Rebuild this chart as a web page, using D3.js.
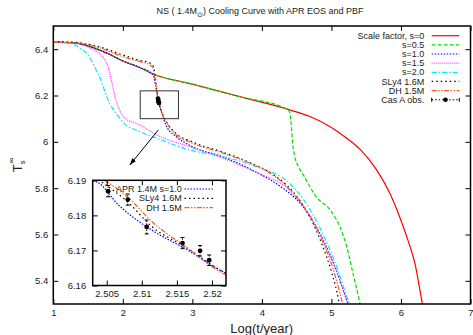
<!DOCTYPE html>
<html>
<head>
<meta charset="utf-8">
<script src="https://cdn.jsdelivr.net/npm/d3@7"></script>
<style>
body { margin: 0; background: #fff; }
svg { font-family: "Liberation Sans", Arial, sans-serif; }
</style>
</head>
<body>
<div id="container"></div>
<script>
// cooling curves, [log t, log Ts]
let s0 = [[1.0,6.43],[1.3,6.427],[1.53,6.411],[1.77,6.383],[2.0,6.349],[2.25,6.32],[2.41,6.296],[3.0,6.249],[3.68,6.195],[4.4,6.138],[4.7,6.108],[5.0,6.062],[5.2,6.02],[5.43,5.962],[5.65,5.879],[5.84,5.778],[5.98,5.677],[6.1,5.576],[6.2,5.476],[6.29,5.331],[6.315,5.29]];
let s05 = [[1.0,6.43],[1.3,6.427],[1.53,6.411],[1.77,6.383],[2.0,6.349],[2.25,6.32],[2.41,6.296],[3.0,6.249],[3.68,6.195],[4.36,6.141],[4.40,6.128],[4.42,6.08],[4.44,6.0],[4.47,5.94],[4.53,5.89],[4.6,5.855],[4.78,5.763],[4.98,5.707],[5.12,5.634],[5.22,5.547],[5.31,5.432],[5.4,5.317],[5.42,5.29]];
let s10 = [[1.0,6.43],[1.3,6.427],[1.53,6.411],[1.77,6.383],[2.0,6.349],[2.25,6.32],[2.41,6.296],[2.44,6.285],[2.47,6.245],[2.51,6.18],[2.56,6.124],[2.63,6.066],[2.77,6.022],[3.0,5.979],[3.44,5.935],[3.9,5.872],[4.3,5.8],[4.55,5.735],[4.74,5.655],[4.9,5.565],[5.05,5.46],[5.17,5.36],[5.25,5.29]];
let s15 = [[1.0,6.43],[1.3,6.425],[1.53,6.404],[1.7,6.37],[1.78,6.33],[1.84,6.26],[1.89,6.19],[1.95,6.14],[2.02,6.105],[2.246,6.073],[2.486,6.03],[2.96,5.979],[3.44,5.929],[3.9,5.87],[4.4,5.79],[4.6,5.72],[4.76,5.64],[4.92,5.55],[5.07,5.445],[5.18,5.35],[5.25,5.29]];
let s20 = [[1.0,6.43],[1.25,6.425],[1.4,6.40],[1.5,6.375],[1.6,6.32],[1.68,6.27],[1.75,6.21],[1.82,6.16],[1.9,6.125],[2.0,6.085],[2.246,6.044],[2.486,6.016],[2.96,5.965],[3.443,5.936],[3.92,5.893],[4.4,5.82],[4.6,5.75],[4.78,5.66],[4.95,5.555],[5.1,5.44],[5.2,5.35],[5.27,5.29]];
let sly4 = [[1.0,6.432],[1.3,6.43],[1.6,6.415],[2.0,6.375],[2.2,6.355],[2.4,6.338],[2.44,6.325],[2.47,6.27],[2.5,6.2],[2.51,6.182],[2.56,6.13],[2.64,6.08],[2.75,6.04],[3.0,6.0],[3.44,5.955],[3.83,5.91],[4.1,5.87],[4.35,5.815],[4.55,5.745],[4.74,5.645],[4.88,5.545],[5.0,5.44],[5.08,5.35],[5.12,5.29]];
let dh = [[1.0,6.43],[1.3,6.428],[1.6,6.412],[2.0,6.368],[2.2,6.35],[2.39,6.332],[2.43,6.32],[2.46,6.275],[2.49,6.215],[2.51,6.18],[2.56,6.128],[2.64,6.078],[2.75,6.035],[3.0,5.995],[3.44,5.951],[3.83,5.908],[4.1,5.868],[4.35,5.81],[4.55,5.742],[4.74,5.655],[4.88,5.565],[5.02,5.455],[5.12,5.35],[5.17,5.29]];

// zoomed-in part (inset)
let aprIn = [[2.503,6.1898],[2.5036,6.1895],[2.5067,6.1829],[2.5115,6.1757],[2.5162,6.1705],[2.5217,6.1638],[2.522,6.1635]];
let sly4In = [[2.5043,6.1895],[2.508,6.1838],[2.5115,6.1767],[2.5162,6.171],[2.5217,6.1638],[2.522,6.1635]];
let dhIn = [[2.5047,6.19],[2.508,6.1852],[2.5115,6.1781],[2.5162,6.1711],[2.5217,6.1633],[2.522,6.163]];

// Cas A observations
let casX = [2.5052,2.5080,2.5107,2.5158,2.5183,2.5196];
let casY = [6.1869,6.1845,6.1767,6.1721,6.1699,6.1672];
let casErr = [0.0016,0.0016,0.002,0.0016,0.0015,0.0015];

let xTicks = [1,2,3,4,5,6,7];
let yTicks = [5.4,5.6,5.8,6,6.2,6.4];
let inXTicks = [2.505,2.51,2.515,2.52];
let inYTicks = [6.16,6.17,6.18,6.19];

let w = 473, h = 335;
let viz = d3.select("#container").append("svg").attr("width", w).attr("height", h);

let xScale = d3.scaleLinear().domain([1,7]).range([53.3,470.5]);
let yScale = d3.scaleLinear().domain([5.3,6.5]).range([304,26]);

// series styles
let series = [
  {name:"Scale factor, s=0", d:s0, color:"#ff0000", dash:null, wdt:1.2},
  {name:"s=0.5", d:s05, color:"#00e000", dash:"4,2", wdt:1.2},
  {name:"s=1.0", d:s10, color:"#0000ff", dash:"1.5,1.5", wdt:1.2},
  {name:"s=1.5", d:s15, color:"#ff40ff", dash:"1,1", wdt:1.2},
  {name:"s=2.0", d:s20, color:"#00e8ff", dash:"5,2,1.5,2", wdt:1.2},
  {name:"SLy4 1.6M", d:sly4, color:"#000000", dash:"1.5,3", wdt:1.2},
  {name:"DH 1.5M", d:dh, color:"#ff5a1a", dash:"5,1.5,1.5,1.5,1.5,1.5", wdt:1.2}
];

viz.append("defs").append("clipPath").attr("id","plotclip")
  .append("rect").attr("x",53.3).attr("y",26).attr("width",470.5-53.3).attr("height",304-26);

let mainLine = d3.line().x(d=>xScale(d[0])).y(d=>yScale(d[1])).curve(d3.curveMonotoneX);

let curves = viz.append("g").attr("clip-path","url(#plotclip)");
series.forEach(s=>{
  curves.append("path").attr("d", mainLine(s.d))
    .attr("fill","none").attr("stroke",s.color).attr("stroke-width",s.wdt)
    .attr("stroke-dasharray", s.dash);
});

// Cas A points in the main plot
casX.forEach((x,i)=>{
  curves.append("circle").attr("cx",xScale(x)).attr("cy",yScale(casY[i])).attr("r",2.3).attr("fill","#000");
});

// zoom box and arrow
let boxX = [2.25,2.80], boxY = [6.10,6.22];
viz.append("rect").attr("x",xScale(boxX[0])).attr("y",yScale(boxY[1]))
  .attr("width",xScale(boxX[1])-xScale(boxX[0])).attr("height",yScale(boxY[0])-yScale(boxY[1]))
  .attr("fill","none").attr("stroke","#333").attr("stroke-width",1);

let arrowFrom = [2.51,6.051], arrowTo = [2.10,5.90];
viz.select("defs").append("marker").attr("id","head").attr("viewBox","0 0 10 10")
  .attr("refX",10).attr("refY",5).attr("markerWidth",7).attr("markerHeight",7)
  .attr("markerUnits","userSpaceOnUse").attr("orient","auto")
  .append("path").attr("d","M0,1.5 L10,5 L0,8.5 z").attr("fill","#000");
viz.append("line").attr("x1",xScale(arrowFrom[0])).attr("y1",yScale(arrowFrom[1]))
  .attr("x2",xScale(arrowTo[0])).attr("y2",yScale(arrowTo[1]))
  .attr("stroke","#000").attr("stroke-width",1).attr("marker-end","url(#head)");

// axes, gnuplot style: ticks inside on every side
let xAxis = d3.axisBottom(xScale).tickValues(xTicks).tickSize(-5).tickPadding(5).tickFormat(d3.format("d"));
let xAxisGroup = viz.append("g").attr("transform","translate(0,304)").call(xAxis);
let topAxis = viz.append("g").attr("transform","translate(0,26)")
  .call(d3.axisTop(xScale).tickValues(xTicks).tickSize(-5).tickFormat(""));
let yAxis = d3.axisLeft(yScale).tickValues(yTicks).tickSize(-5).tickPadding(5).tickFormat(d=>d3.format("")(d));
let yAxisGroup = viz.append("g").attr("transform","translate(53.3,0)").call(yAxis);
let rightAxis = viz.append("g").attr("transform","translate(470.5,0)")
  .call(d3.axisRight(yScale).tickValues(yTicks).tickSize(-5).tickFormat(""));
[xAxisGroup, topAxis, yAxisGroup, rightAxis].forEach(g=>{
  g.select(".domain").remove();
  g.selectAll("line").attr("stroke","#000").attr("stroke-width",1);
  g.selectAll("text").attr("font-size",9.5).attr("fill","#222").attr("font-family","Liberation Sans, Arial, sans-serif");
});

viz.append("rect").attr("x",53.3).attr("y",26).attr("width",470.5-53.3).attr("height",304-26)
  .attr("fill","none").attr("stroke","#000").attr("stroke-width",1.5);

// ---- inset ----
let inX = d3.scaleLinear().domain([2.503,2.522]).range([92.7,226]);
let inY = d3.scaleLinear().domain([6.16,6.19]).range([285.5,180.3]);

viz.append("rect").attr("x",92.7).attr("y",180.3).attr("width",226-92.7).attr("height",285.5-180.3)
  .attr("fill","#fff");
viz.select("defs").append("clipPath").attr("id","inclip")
  .append("rect").attr("x",92.7).attr("y",180.3).attr("width",226-92.7).attr("height",285.5-180.3);

let inLine = d3.line().x(d=>inX(d[0])).y(d=>inY(d[1])).curve(d3.curveMonotoneX);
let inSeries = [
  {name:"APR 1.4M s=1.0", d:aprIn, color:"#0000ff", dash:"1.5,1.5"},
  {name:"SLy4 1.6M", d:sly4In, color:"#000000", dash:"1.5,3"},
  {name:"DH 1.5M", d:dhIn, color:"#ff5a1a", dash:"5,1.5,1.5,1.5,1.5,1.5"}
];
let inCurves = viz.append("g").attr("clip-path","url(#inclip)");
inSeries.forEach(s=>{
  inCurves.append("path").attr("d",inLine(s.d)).attr("fill","none")
    .attr("stroke",s.color).attr("stroke-width",1.2).attr("stroke-dasharray",s.dash);
});

// error bars + points
casX.forEach((x,i)=>{
  let px = inX(x), y1 = inY(casY[i]-casErr[i]), y2 = inY(casY[i]+casErr[i]);
  let g = inCurves.append("g");
  g.append("line").attr("x1",px).attr("x2",px).attr("y1",y1).attr("y2",y2)
    .attr("stroke","#000").attr("stroke-width",1).attr("stroke-dasharray","1.5,1.5");
  [y1,y2].forEach(yy=>g.append("line").attr("x1",px-2).attr("x2",px+2).attr("y1",yy).attr("y2",yy)
    .attr("stroke","#000").attr("stroke-width",1));
  g.append("circle").attr("cx",px).attr("cy",inY(casY[i])).attr("r",2.4).attr("fill","#000");
});

let inXAxis = viz.append("g").attr("transform","translate(0,285.5)")
  .call(d3.axisBottom(inX).tickValues(inXTicks).tickSize(-5).tickPadding(5).tickFormat(d=>d3.format("")(d)));
let inTop = viz.append("g").attr("transform","translate(0,180.3)")
  .call(d3.axisTop(inX).tickValues(inXTicks).tickSize(-5).tickFormat(""));
let inYAxis = viz.append("g").attr("transform","translate(92.7,0)")
  .call(d3.axisLeft(inY).tickValues(inYTicks).tickSize(-5).tickPadding(6.5).tickFormat(d3.format(".2f")));
let inRight = viz.append("g").attr("transform","translate(226,0)")
  .call(d3.axisRight(inY).tickValues(inYTicks).tickSize(-5).tickFormat(""));
[inXAxis, inTop, inYAxis, inRight].forEach(g=>{
  g.select(".domain").remove();
  g.selectAll("line").attr("stroke","#000").attr("stroke-width",1);
  g.selectAll("text").attr("font-size",9.5).attr("fill","#222").attr("font-family","Liberation Sans, Arial, sans-serif");
});
viz.append("rect").attr("x",92.7).attr("y",180.3).attr("width",226-92.7).attr("height",285.5-180.3)
  .attr("fill","none").attr("stroke","#000").attr("stroke-width",1.5);

// inset legend
inSeries.forEach((s,i)=>{
  let yy = 189 + i*9.3;
  viz.append("text").attr("x",181.7).attr("y",yy).attr("dy","0.35em").attr("text-anchor","end")
    .attr("font-size",9).attr("fill","#222").text(s.name);
  viz.append("line").attr("x1",184.5).attr("x2",213).attr("y1",yy).attr("y2",yy)
    .attr("stroke",s.color).attr("stroke-width",1.2).attr("stroke-dasharray",s.dash);
});

// main legend
let legY0 = 35.7, legStep = 9.15;
series.forEach((s,i)=>{
  let yy = legY0 + i*legStep;
  viz.append("text").attr("x",424.3).attr("y",yy).attr("dy","0.35em").attr("text-anchor","end")
    .attr("font-size",9).attr("fill","#222").text(s.name);
  viz.append("line").attr("x1",431.7).attr("x2",459.3).attr("y1",yy).attr("y2",yy)
    .attr("stroke",s.color).attr("stroke-width",1.2).attr("stroke-dasharray",s.dash);
});
let casLegY = legY0 + series.length*legStep;
viz.append("text").attr("x",424.3).attr("y",casLegY).attr("dy","0.35em").attr("text-anchor","end")
  .attr("font-size",9).attr("fill","#222").text("Cas A obs.");
viz.append("line").attr("x1",431.7).attr("x2",459.3).attr("y1",casLegY).attr("y2",casLegY)
  .attr("stroke","#000").attr("stroke-width",1).attr("stroke-dasharray","1.5,2");
[431.7,459.3].forEach(xx=>viz.append("line").attr("x1",xx).attr("x2",xx).attr("y1",casLegY-2).attr("y2",casLegY+2)
  .attr("stroke","#000").attr("stroke-width",1));
viz.append("circle").attr("cx",445.5).attr("cy",casLegY).attr("r",2.3).attr("fill","#000");

// title
let title = viz.append("text").attr("x",260).attr("y",14).attr("text-anchor","middle")
  .attr("font-size",9).attr("fill","#222");
title.append("tspan").text("NS ( 1.4M");
title.append("tspan").attr("dy",2.5).attr("font-size",6.5).text("\u2299");
title.append("tspan").attr("dy",-2.5).text(") Cooling Curve with APR EOS and PBF");

// axis labels
viz.append("text").attr("x",261.7).attr("y",332.5).attr("text-anchor","middle")
  .attr("font-size",13).attr("fill","#222").text("Log(t/year)");
let yLab = viz.append("text").attr("transform","translate(22,165) rotate(-90)")
  .attr("text-anchor","middle").attr("font-size",13).attr("fill","#222");
yLab.append("tspan").text("T");
yLab.append("tspan").attr("dy",3).attr("font-size",8).text("s");
yLab.append("tspan").attr("dx",-3).attr("dy",-11).attr("font-size",8).text("\u221e");
</script>
</body>
</html>
